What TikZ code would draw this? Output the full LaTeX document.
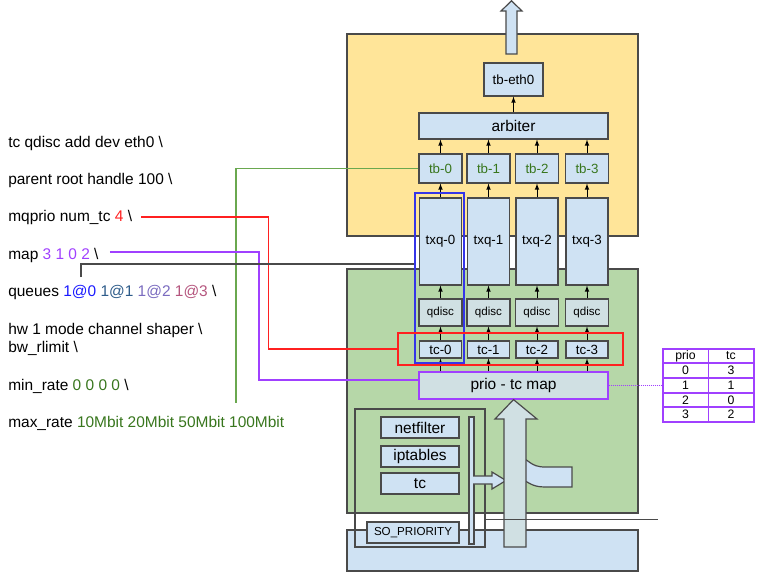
\documentclass[tikz,border=0pt]{standalone}
\usepackage{fontspec}
\setmainfont{Liberation Sans}
\usepackage{xcolor}
\usetikzlibrary{arrows, calc, positioning}

\definecolor{qyellow}{HTML}{FFE599}
\definecolor{qgreen}{HTML}{B6D7A8}
\definecolor{qblue}{HTML}{CFE2F3}
\definecolor{qgrey}{HTML}{D0E0E3}
\definecolor{qline}{HTML}{4A4A4A}
\definecolor{txtgreen}{HTML}{38761D}
\definecolor{wgreen}{HTML}{6AA84F}
\definecolor{wred}{HTML}{FF2020}
\definecolor{wpurple}{HTML}{A040FF}
\definecolor{wblue}{HTML}{3535E8}
\definecolor{qa}{HTML}{1A1AFF}
\definecolor{qb}{HTML}{2E5C8A}
\definecolor{qc}{HTML}{7A6BBF}
\definecolor{qd}{HTML}{B5567E}

\tikzset{
    blk/.style={draw=qline, fill=qblue, line width=0.9pt, inner sep=0pt},
    sz/.style 2 args={minimum width=#1*0.75pt, minimum height=#2*0.75pt},
    lblbig/.style={font=\fontsize{11.6}{14}\selectfont},
    lblmid/.style={font=\fontsize{10}{12}\selectfont},
    lblsmall/.style={font=\fontsize{8.7}{10}\selectfont},
    cmd/.style={anchor=base west, inner sep=0pt, font=\fontsize{11.6}{14}\selectfont},
    feed/.style={-latex, line width=0.6pt},
    wire/.style={line width=0.8pt},
}

\begin{document}
\begin{tikzpicture}[x=0.75pt, y=-0.75pt]
                    \useasboundingbox (0,0) rectangle (768,576);
                    \draw[qline, line width=0.9pt, fill=qyellow] (347,34) rectangle (638,236);
                    \draw[qline, line width=0.9pt, fill=qgreen] (347,269) rectangle (638,513);
                    \draw[qline, line width=0.9pt, fill=qblue] (347,530) rectangle (638,571);
                    \draw[qline, line width=0.9pt, fill=qblue]
                    (506,54) -- (506,11) -- (501,11) -- (511.5,0.8) -- (522,11) -- (517,11) -- (517,54) -- cycle;

                    \node[blk, sz={59}{33}, lblmid] (tbeth) at (513.5,79.5) {tb-eth0};
                    \node[blk, sz={189}{26}, lblbig] (arb) at (513.5,126) {arbiter};
                    \draw[feed] (arb.north) -- (tbeth.south);
                    \foreach \i/\x in {0/440.5, 1/488.5, 2/537, 3/587} {
                        \node[blk, sz={43}{29}, lblmid, text=txtgreen] (tb\i) at (\x,168.5) {tb-\i};
                        \node[blk, sz={42}{87}, lblmid] (txq\i) at (\x,241.5) {txq-\i};
                        \node[blk, fill=qgrey, sz={43}{27}, lblsmall] (qd\i) at (\x,312.5) {qdisc};
                        \node[blk, sz={42}{17}, lblmid] (tc\i) at (\x,349.5) {tc-\i};
                        \draw[feed] (tb\i.north) -- (tb\i.north |- arb.south);
                        \draw[feed] (txq\i) -- (tb\i);
                        \draw[feed] (qd\i) -- (txq\i);
                        \draw[feed] (tc\i) -- (qd\i);
                    }
                    \node[blk, fill=qgrey, draw=wpurple, sz={189}{27}, lblbig] (pmap) at (513.5,385.5) {prio - tc map};
                    \foreach \i in {0,...,3} {
                        \draw[feed] (tc\i |- pmap.north) -- (tc\i.south);
                    }
                    \node[draw=wblue, wire, sz={49}{170}] (q0frame) at (439.5,278) {};
                    \node[draw=wred, wire, sz={225}{32}] (tcframe) at (510.5,349) {};

                    \node[draw=qline, line width=0.9pt, sz={130}{138}] (inbox) at (420,478) {};
                    \node[blk, sz={78}{21}, lblbig] (nf) at (420,427.5) {netfilter};
                    \node[blk, sz={78}{21}, lblbig] (ipt) at (420,456.5) {iptables};
                    \node[blk, sz={78}{21}, lblbig] (tcx) at (420,483.5) {tc};
                    \node[blk, sz={92}{21}, lblsmall] (sop) at (413,532.5) {SO\_PRIORITY};
                    \node[blk, sz={5}{127}] (bar) at (471.5,480.5) {};
                    \filldraw[qline, line width=0.9pt, fill=qblue]
                    (473,476) -- (492,476) -- (492,472) -- (506,480.5) -- (492,489) -- (492,484) -- (473,484);
                    \filldraw[qline, line width=0.9pt, fill=qblue]
                    (520,457) .. controls (529,459) and (530,467) .. (545,467) -- (572,467) -- (572,487) -- (545,487) .. controls (532,487) and (528,482) .. (520,478);
                    \draw[qline, line width=0.9pt, fill=qgrey]
                    (504,547) -- (504,419) -- (495,419) -- (pmap.south) -- (537,419) -- (526,419) -- (526,547) -- cycle;
                    \coordinate (send) at (658,519);
                    \draw[qline, line width=0.7pt] (inbox.east |- send) -- (send);

                    \node[draw=wpurple, wire, sz={91}{73}] (ptab) at (708.5,385.5) {};
                    \draw[wpurple, wire] (ptab.north) -- (ptab.south);
                    \foreach \y in {363, 378, 393, 407} {
                        \draw[wpurple, wire] (ptab.west |- 0,\y) -- (ptab.east |- 0,\y);
                    }
                    \foreach \r/\p/\t in {0/prio/tc, 1/0/3, 2/1/1, 3/2/0, 4/3/2} {
                        \node[font=\fontsize{9.2}{10}\selectfont, inner sep=0pt] (pc\r) at (685.5,356+14.6*\r) {\p};
                        \node[font=\fontsize{9.2}{10}\selectfont, inner sep=0pt] (tcc\r) at (731,356+14.6*\r) {\t};
                    }
                    \draw[wpurple, densely dotted, line width=0.5pt] (pmap.east) -- (ptab.west);

                    \node[cmd] (l1) at (8,147.5) {tc qdisc add dev eth0 \textbackslash};
                    \node[cmd] (l2) at (8,184.5) {parent root handle 100 \textbackslash};
                    \node[cmd] (l3) at (8,221.5) {mqprio num\_tc \textcolor{wred}{4} \textbackslash};
                    \node[cmd] (l4) at (8,259.5) {map \textcolor{wpurple}{3 1 0 2} \textbackslash};
                    \node[cmd] (l5) at (8,296.5) {queues \textcolor{qa}{1@0} \textcolor{qb}{1@1} \textcolor{qc}{1@2} \textcolor{qd}{1@3} \textbackslash};
                    \node[cmd] (l6) at (8,334.5) {hw 1 mode channel shaper \textbackslash};
                    \node[cmd] (l7) at (8,352.5) {bw\_rlimit \textbackslash};
                    \node[cmd] (l8) at (8,390.5) {min\_rate \textcolor{txtgreen}{0 0 0 0} \textbackslash};
                    \node[cmd] (l9) at (8,427.5) {max\_rate \textcolor{txtgreen}{10Mbit 20Mbit 50Mbit 100Mbit}};

                    \coordinate (gend) at (236,403);
                    \coordinate (qstart) at (81,277);
                    \draw[wgreen, wire] (tb0.west) -| (gend);
                    \draw[wred, wire] ($(l3.base east)+(9,-4.5)$) -| ($(tcframe.west)+(-129,0)$) -- (tcframe.west);
                    \draw[wpurple, wire] ($(l4.base east)+(11,-7.5)$) -| (259,380) -- (pmap.west |- 0,380);
                    \draw[qline, wire] (qstart) |- ($(q0frame.west)+(0,-14)$);
                \end{tikzpicture}
\end{document}
